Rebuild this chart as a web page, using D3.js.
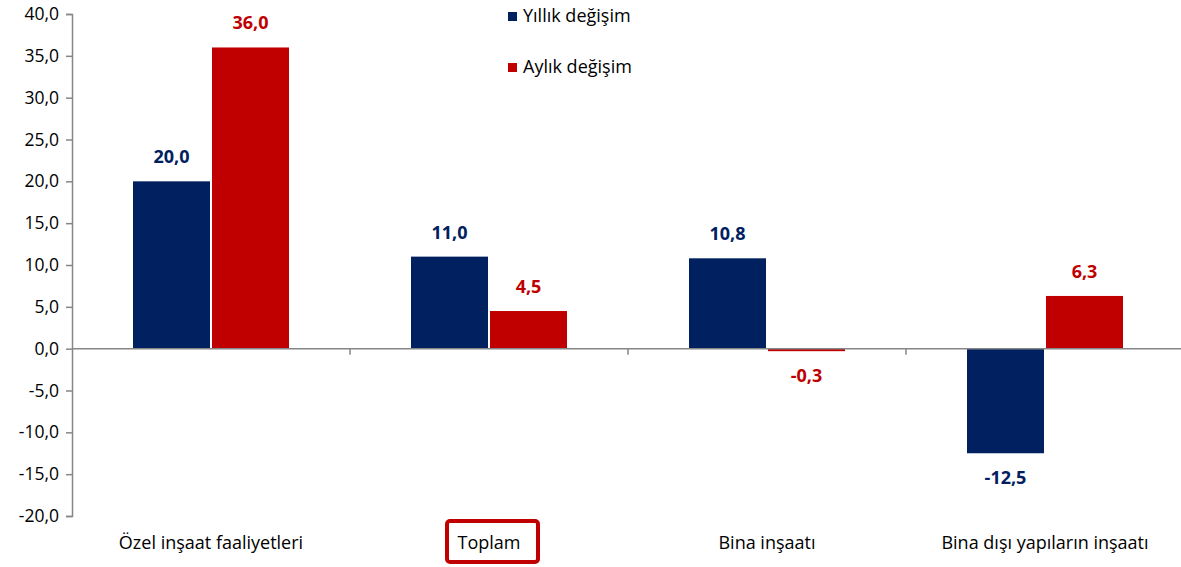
<!DOCTYPE html>
<html><head><meta charset="utf-8">
<script src="https://cdn.jsdelivr.net/npm/d3@7"></script>
<style>body{margin:0;background:#fff}svg{display:block}text{font-family:"Open Sans","Noto Sans",sans-serif}</style>
</head><body><svg id="c" width="1181" height="567"></svg>
<script>
const categories = ["Özel inşaat faaliyetleri","Toplam","Bina inşaatı","Bina dışı yapıların inşaatı"];
const seriesNames = ["Yıllık değişim","Aylık değişim"];
const yillik = [20.0, 11.0, 10.8, -12.5];
const aylik = [36.0, 4.5, -0.3, 6.3];
const yTicks = [40,35,30,25,20,15,10,5,0,-5,-10,-15,-20];
const colors = ["#002060","#C00000"];

(function(){
const svg = d3.select("#c");
const mL = 72, mR = 1184, mT = 14, mB = 516;
const y = d3.scaleLinear().domain([-20,40]).range([mB, mT]);
const x = d3.scaleBand().domain(categories).range([mL, mR]).padding(0);
const fmt = v => v.toFixed(1).replace(".", ",");

// y axis
const yAxis = d3.axisLeft(y).tickValues(yTicks).tickSize(6).tickPadding(7).tickFormat(fmt);
const ga = svg.append("g").attr("transform",`translate(${mL},0)`).call(yAxis);
ga.select(".domain").attr("stroke","#868686").attr("stroke-width",1.5);
ga.selectAll(".tick line").attr("stroke","#868686").attr("stroke-width",1.5);
ga.selectAll(".tick text").attr("font-size",17.5).attr("fill","#000").style("font-family","'Open Sans',sans-serif");

// bars
const bw = 77, gap = 2;
const data = [yillik, aylik];
data.forEach((vals, si) => {
  svg.append("g").selectAll("rect").data(vals).join("rect")
    .attr("x",(d,i)=> x(categories[i]) + x.bandwidth()/2 + (si===0 ? -bw - gap/2 : gap/2))
    .attr("width",bw)
    .attr("y",d=> y(Math.max(0,d)))
    .attr("height",d=> Math.abs(y(d)-y(0)))
    .attr("fill",colors[si]);
});

// zero line with category ticks
svg.append("line").attr("x1",mL).attr("x2",mR).attr("y1",y(0)).attr("y2",y(0))
  .attr("stroke","#868686").attr("stroke-width",1.5);
svg.append("g").selectAll("line").data(categories.slice(1)).join("line")
  .attr("x1",d=>x(d)).attr("x2",d=>x(d)).attr("y1",y(0)).attr("y2",y(0)+6)
  .attr("stroke","#868686").attr("stroke-width",1.5);

// value labels
data.forEach((vals, si) => {
  svg.append("g").selectAll("text").data(vals).join("text")
    .attr("x",(d,i)=> x(categories[i]) + x.bandwidth()/2 + (si===0 ? -bw/2 - gap/2 : bw/2 + gap/2))
    .attr("y",d=> d>=0 ? y(d)-18 : y(d)+31)
    .attr("text-anchor","middle").attr("font-size",18).attr("font-weight","bold")
    .attr("fill",colors[si]).text(d=>fmt(d));
});

// category labels
svg.append("g").selectAll("text").data(categories).join("text")
  .attr("x",d=>x(d)+x.bandwidth()/2).attr("y",549)
  .attr("text-anchor","middle").attr("font-size",18).attr("fill","#000").text(d=>d);

// highlight box around Toplam
svg.append("rect").attr("x",447).attr("y",521).attr("width",91).attr("height",41).attr("rx",3)
  .attr("fill","none").attr("stroke","#C00000").attr("stroke-width",4);

// legend
seriesNames.forEach((n,i)=>{
  const ly = 16 + i*51;
  svg.append("rect").attr("x",508).attr("y",ly-4).attr("width",9).attr("height",9).attr("fill",colors[i]);
  svg.append("text").attr("x",523).attr("y",ly+6).attr("font-size",18).attr("fill","#000").text(n);
});
})();
</script></body></html>
